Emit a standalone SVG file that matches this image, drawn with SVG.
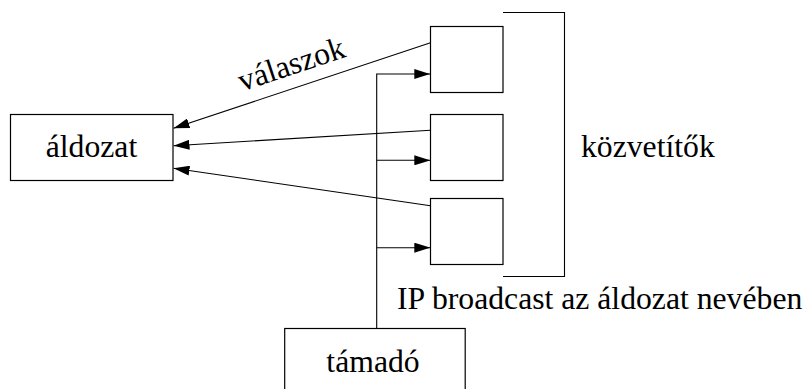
<svg xmlns="http://www.w3.org/2000/svg" width="809" height="389" viewBox="0 0 809 389">
<style>
.box{fill:#fff;stroke:#000;stroke-width:1.2}
.ln{fill:none;stroke:#000;stroke-width:1.1}
.t{font-family:'Liberation Serif','Times New Roman',serif;font-size:31.7px;fill:#000}
</style>
<defs>
<marker id="ah" viewBox="0 0 16 10" refX="16" refY="5" markerWidth="16" markerHeight="10" markerUnits="userSpaceOnUse" orient="auto">
<path d="M0,0 L16,5 L0,10 Z" fill="#000"/>
</marker>
</defs>
<rect width="809" height="389" fill="#fff"/>
<g id="connectors">
<line class="ln" x1="430.5" y1="42.7" x2="173.5" y2="128.3" marker-end="url(#ah)"/>
<line class="ln" x1="430.5" y1="130.3" x2="173.5" y2="145.7" marker-end="url(#ah)"/>
<line class="ln" x1="430.5" y1="205.7" x2="173.5" y2="168.3" marker-end="url(#ah)"/>
<path class="ln" d="M376.7,328.5 V74 H430.3" marker-end="url(#ah)"/>
<line class="ln" x1="376.7" y1="160.3" x2="430.3" y2="160.3" marker-end="url(#ah)"/>
<line class="ln" x1="376.7" y1="247.7" x2="430.3" y2="247.7" marker-end="url(#ah)"/>
<path class="ln" d="M503,12.5 H564.5 V276.5 H503"/>
</g>
<g id="aldozat">
<rect class="box" x="10.5" y="114.5" width="162.5" height="66"/>
<text class="t" x="91.5" y="157.3" text-anchor="middle">áldozat</text>
</g>
<g id="relay1"><rect class="box" x="430.5" y="26.5" width="72.5" height="66"/></g>
<g id="relay2"><rect class="box" x="430.5" y="114.5" width="72.5" height="66"/></g>
<g id="relay3"><rect class="box" x="430.5" y="198.5" width="72.5" height="66"/></g>
<g id="tamado">
<rect class="box" x="284.7" y="328.5" width="180.5" height="70"/>
<text class="t" x="373" y="371.7" text-anchor="middle">támadó</text>
</g>
<g id="labels">
<text class="t" x="294.5" y="74" text-anchor="middle" transform="rotate(-18.4 294.5 74)">válaszok</text>
<text class="t" x="581" y="156.7">közvetítők</text>
<text class="t" x="397" y="309">IP broadcast az áldozat nevében</text>
</g>
</svg>
